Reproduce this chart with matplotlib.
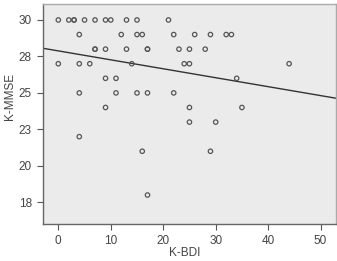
import matplotlib
matplotlib.use("Agg")
import matplotlib.pyplot as plt
import numpy as np

# K-BDI (x) and K-MMSE (y)
bdi = [0, 2, 3, 3, 5, 7, 9, 10, 13, 15, 21,
       4, 12, 15, 16, 22, 26, 29, 32, 33,
       7, 7, 9, 13, 17, 17, 23, 25, 28,
       0, 4, 6, 14, 24, 25, 44,
       9, 11, 34,
       4, 11, 15, 17, 22,
       9, 25, 35,
       25, 30,
       4,
       16, 29,
       17]
mmse = [30, 30, 30, 30, 30, 30, 30, 30, 30, 30, 30,
        29, 29, 29, 29, 29, 29, 29, 29, 29,
        28, 28, 28, 28, 28, 28, 28, 28, 28,
        27, 27, 27, 27, 27, 27, 27,
        26, 26, 26,
        25, 25, 25, 25, 25,
        24, 24, 24,
        23, 23,
        22,
        21, 21,
        18]

# fit line as shown in the picture
fit_intercept = 27.88
fit_slope = -0.0613

y_ticks = [30, 27.5, 25, 22.5, 20, 17.5]
y_tick_labels = ["30", "28", "25", "23", "20", "18"]
x_ticks = [0, 10, 20, 30, 40, 50]

plt.rcParams['font.family'] = ['Liberation Sans', 'DejaVu Sans']

fig = plt.figure(figsize=(3.37, 2.61), dpi=100)
ax = fig.add_axes([0.1285, 0.141, 0.868, 0.844])
ax.set_facecolor('#ebebeb')

ax.scatter(bdi, mmse, s=10, facecolors='none', edgecolors='#555555', linewidths=0.9, zorder=3)

xl = np.array([-3, 53])
ax.plot(xl, fit_intercept + fit_slope * xl, color='#333333', linewidth=1.0, zorder=2)

ax.set_xlim(-2.86, 52.9)
ax.set_ylim(16.0, 31.1)
ax.set_xticks(x_ticks)
ax.set_yticks(y_ticks)
ax.set_yticklabels(y_tick_labels)
ax.tick_params(axis='both', direction='out', length=4.3, width=0.8, color='#555555',
               labelsize=8.5, labelcolor='#444444')
ax.tick_params(axis='x', pad=3.5)
ax.tick_params(axis='y', pad=4)

for side in ['left', 'bottom']:
    ax.spines[side].set_color('#666666')
    ax.spines[side].set_linewidth(1.0)
for side in ['top', 'right']:
    ax.spines[side].set_color('#aaaaaa')
    ax.spines[side].set_linewidth(1.0)

ax.set_xlabel("K-BDI", fontsize=8.5, color='#444444', va='center')
ax.xaxis.set_label_coords(0.484, -0.1325)
ax.set_ylabel("K-MMSE", fontsize=8.5, color='#444444', va='center')
ax.yaxis.set_label_coords(-0.114, 0.582)

fig.savefig("out.png", dpi=100)
